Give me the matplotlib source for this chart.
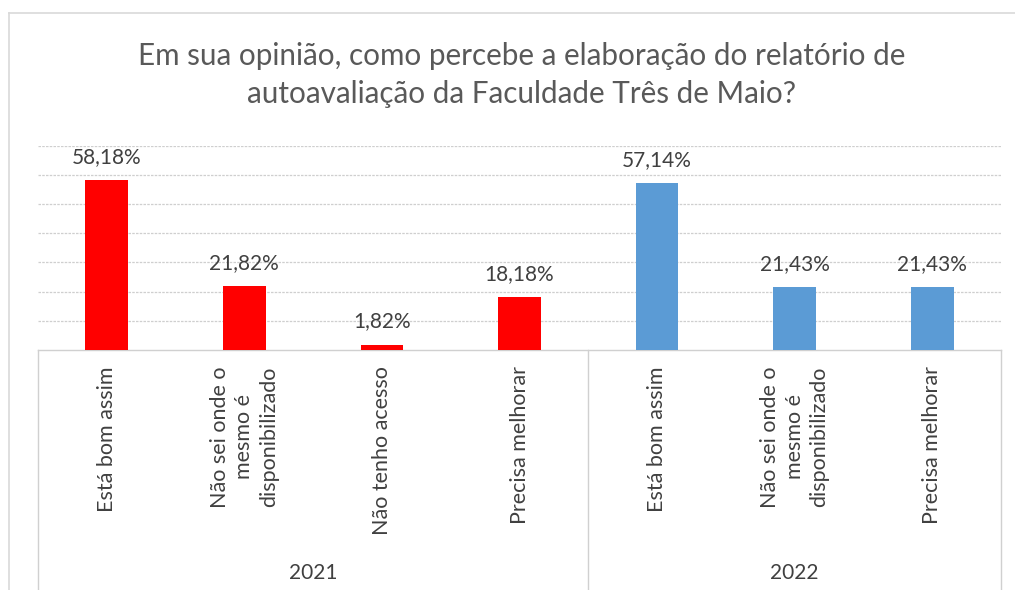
import matplotlib
matplotlib.use("Agg")
import matplotlib.pyplot as plt
from matplotlib.lines import Line2D

plt.rcParams['font.family'] = ['Lato', 'DejaVu Sans']

title = "Em sua opinião, como percebe a elaboração do relatório de\nautoavaliação da Faculdade Três de Maio?"
years = ["2021", "2022"]
cats_2021 = ["Está bom assim", "Não sei onde o\nmesmo é\ndisponibilizado", "Não tenho acesso", "Precisa melhorar"]
vals_2021 = [58.18, 21.82, 1.82, 18.18]
cats_2022 = ["Está bom assim", "Não sei onde o\nmesmo é\ndisponibilizado", "Precisa melhorar"]
vals_2022 = [57.14, 21.43, 21.43]
labels_2021 = ["58,18%", "21,82%", "1,82%", "18,18%"]
labels_2022 = ["57,14%", "21,43%", "21,43%"]

W, H = 1015, 590
fig = plt.figure(figsize=(W / 100, H / 100), dpi=100)
fig.patch.set_facecolor("white")

ax_left, ax_right = 38 / W, 1001 / W
ax_bottom = 1 - 350 / H
ax_top = 1 - 145.6 / H
ax = fig.add_axes([ax_left, ax_bottom, ax_right - ax_left, ax_top - ax_bottom])

n1, n2 = len(cats_2021), len(cats_2022)
x1 = list(range(n1))
x2 = list(range(n1, n1 + n2))
bw = 0.31
bars1 = ax.bar(x1, vals_2021, width=bw, color="#FF0000", zorder=3)
bars2 = ax.bar(x2, vals_2022, width=bw, color="#5B9BD5", zorder=3)

for b, lab in zip(list(bars1) + list(bars2), labels_2021 + labels_2022):
    ax.annotate(lab, (b.get_x() + b.get_width() / 2, b.get_height()),
                xytext=(0, 9.5), textcoords="offset points",
                ha="center", va="bottom", fontsize=15, color="#404040")

ax.set_xlim(-0.5, n1 + n2 - 0.5)
ax.set_ylim(0, 70)
ax.set_yticks(range(10, 71, 10))
ax.yaxis.grid(True, color="#cfcfcf", linestyle=(0, (2, 1)), linewidth=0.9, zorder=0)
ax.tick_params(left=False, labelleft=False, bottom=False, labelbottom=False)
for s in ["left", "right", "top"]:
    ax.spines[s].set_visible(False)
ax.spines["bottom"].set_color("#d0d0d0")
ax.spines["bottom"].set_linewidth(1.0)

# category boxes
trans = ax.get_xaxis_transform()
for xb in [-0.5, n1 - 0.5, n1 + n2 - 0.5]:
    ax.plot([xb, xb], [0, -1.3], transform=trans, color="#d0d0d0", lw=1.0, clip_on=False)

px = 1 / 204.4  # axes fraction per pixel
for xi, c in zip(x1 + x2, cats_2021 + cats_2022):
    ax.text(xi, -16 * px, c, transform=trans, rotation=90, ha="center", va="top",
            multialignment="center", fontsize=15.5, color="#404040", linespacing=1.3)

for yr, xs in zip(years, [x1, x2]):
    ax.text((xs[0] + xs[-1]) / 2, -223 * px, yr, transform=trans, ha="center", va="center",
            fontsize=15, color="#404040")

# title
fig.text(0.514, 1 - 75 / H, title, ha="center", va="center", fontsize=21.3,
         color="#595959", linespacing=1.42)

# chart frame
fig.add_artist(Line2D([9 / W, 9 / W], [0, 1 - 13 / H], transform=fig.transFigure, color="#d9d9d9", lw=1.2))
fig.add_artist(Line2D([9 / W, 1], [1 - 13 / H, 1 - 13 / H], transform=fig.transFigure, color="#d9d9d9", lw=1.2))

fig.savefig("out.png", dpi=100, facecolor="white")
